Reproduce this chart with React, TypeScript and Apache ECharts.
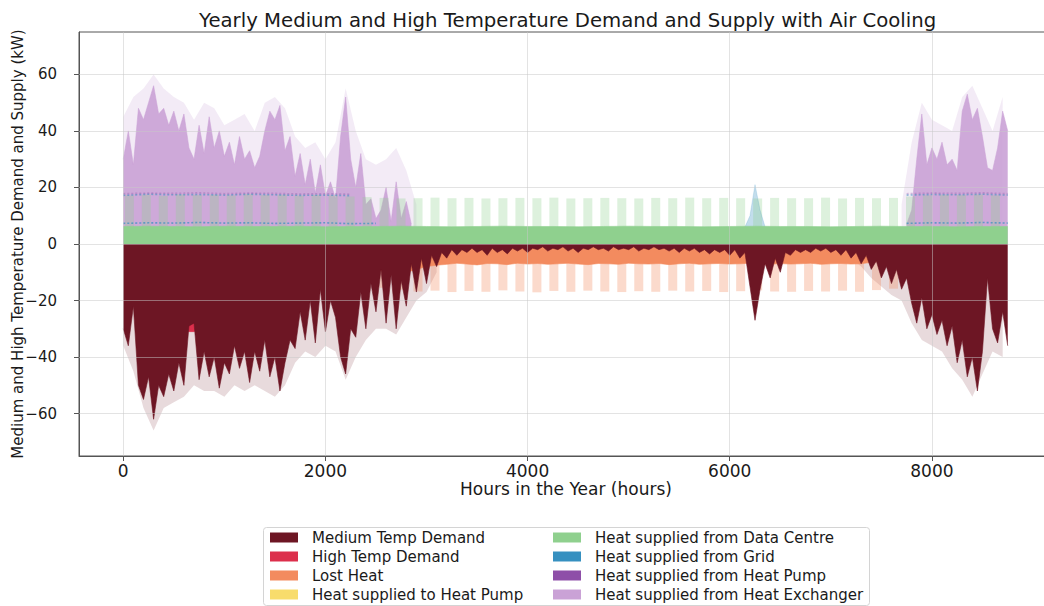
import React, { useEffect, useRef } from "react";
import * as echarts from "echarts";

// ---------- data ----------
const TITLE = "Yearly Medium and High Temperature Demand and Supply with Air Cooling";
const X_NAME = "Hours in the Year (hours)";
const Y_NAME = "Medium and High Temperature Demand and Supply (kW)";
const X_TICKS = [0, 2000, 4000, 6000, 8000];
const Y_TICKS = [-60, -40, -20, 0, 20, 40, 60];

// hourly profile sampled every 50 h (kW, demand drawn downwards)
const STEP = 50;
const mediumDemand = [
  -30, -36, -22, -50, -55, -47, -62, -50, -54, -46,
  -52, -42, -50, -29, -28, -48, -38, -47, -40, -51,
  -42, -46, -36, -44, -38, -49, -38, -45, -34, -47,
  -40, -52, -42, -34, -37, -24, -34, -20, -35, -16,
  -31, -20, -26, -40, -46, -30, -33, -17, -30, -14,
  -24, -9, -28, -11, -30, -13, -22, -7, -17, -5,
  -14, -4, -8, -3, -5, -2, -4, -2, -3, -1.5,
  -3, -2, -4, -1.5, -3, -2, -3.5, -1.5, -2.5, -1.5,
  -3, -1.5, -2, -1, -2.5, -1.5, -2, -1, -2.5, -1.5,
  -3, -1.5, -2, -1, -2, -1.5, -2.5, -1, -2, -1.5,
  -2, -1, -2.5, -1.5, -2, -1, -2, -1.5, -2.5, -1.5,
  -3, -1.5, -2.5, -1.5, -3, -2, -3.5, -2, -3, -2,
  -4, -2, -5, -3, -15, -27, -16, -7, -12, -5,
  -10, -3, -4, -2, -3, -2, -3, -1.5, -2.5, -1.5,
  -3, -2, -4, -2, -5, -3, -7, -4, -9, -6,
  -12, -8, -14, -9, -16, -12, -21, -28, -19, -30,
  -25, -32, -27, -36, -29, -42, -34, -47, -40, -52,
  -38, -12, -30, -35, -24, -36,
];

// faint tips of the demand spikes, every 100 h
const TIP_STEP = 100;
const demandTipsStart = [
  -36, -45, -58, -66, -58, -56, -54, -50, -52, -52,
  -54, -50, -52, -50, -52, -54, -50, -42, -38, -40,
  -36, -38, -48, -40, -34, -30, -30, -32, -26, -20,
  -17, -10,
];
const DEMAND_TIPS_END_START = 7200;
const demandTipsEnd = [-5, -8, -12, -15, -18, -20, -28, -34, -36, -38, -44, -48, -54, -46, -38, -40];

// high temperature demand (lower edge), from 600 h every 50 h
const HIGH_START = 600;
const highTempDemand = [-30, -31, -31, -30];

// lost heat, lower edge of the solid band, from 2400 h every 100 h
const LOST_START = 2400;
const LOST_STEP = 100;
const lostHeat = [
  -3, -9, -10, -9, -10, -9, -8, -7.5, -7.2, -6.8,
  -7.1, -7.4, -6.9, -7, -7.3, -6.8, -7.1, -6.9, -7.2, -7,
  -6.8, -7.1, -7.3, -6.9, -7, -7.2, -6.8, -7, -7.1, -6.9,
  -7.3, -7, -6.8, -7.2, -7, -6.9, -7.1, -7, -6.8, -7,
  -7.2, -6.9, -7.1, -7, -6.8, -7.2, -7, -6.9, -7.1, -7,
  -6.5, -6, -5.5, -4.5, -2,
];

// weekly peaks (one value per week, centred on the working days)
const WEEK = 168;
const WEEK_OFFSET = 60;
const dataCentrePeaks = [
  17.2, 17.4, 17.0, 17.5, 17.3, 17.4, 17.2, 17.6, 17.3, 17.4,
  17.1, 17.3, 17.2, 16.8, 16.6, 16.3, 16.1, 16.2, 16.4, 16.2,
  16.3, 16.1, 16.2, 16.3, 16.2, 16.4, 16.1, 16.2, 16.3, 16.2,
  16.1, 16.3, 16.2, 16.4, 16.2, 16.3, 16.2, 16.1, 16.3, 16.2,
  16.2, 16.4, 16.1, 16.3, 16.2, 16.3, 16.8, 17.2, 17.4, 17.3,
  17.5, 17.2,
];
const PEAK_WEEK_START = 15;
const lostHeatPeaks = [
  -15.5, -16.2, -16.8, -16.5, -17, -16.6, -16.9, -16.4, -16.8, -17.1,
  -16.6, -16.9, -16.5, -16.8, -17, -16.7, -16.9, -16.5, -16.8, -16.6,
  -17, -16.7, -16.4, -16.8, -16.9, -16.6, -16.8, -16.5, -16.9, -16.3,
  -15.8,
];
const heatToHeatPump = [
  -0.8, -1.0, -1.2, -1.1, -1.3, -1.0, -1.2, -1.1, -1.0, -1.3,
  -1.1, -1.2, -1.0, -1.1, -1.3, -1.2, -1.0, -1.1, -1.2, -1.0,
  -1.3, -1.1, -1.0, -1.2, -1.1, -1.0, -1.2, -1.1, -1.0, -0.9,
  -0.8,
];

// data centre base supply, every 250 h
const DC_STEP = 250;
const dataCentreBase = [
  6.2, 6.3, 6.2, 6.1, 6.3, 6.2, 6.2, 6.3, 6.1, 6.2,
  6.2, 6.3, 6.2, 6.1, 6.2, 6.3, 6.2, 6.2, 6.1, 6.2,
  6.3, 6.2, 6.2, 6.1, 6.2, 6.3, 6.2, 6.2, 6.1, 6.2,
  6.3, 6.2, 6.2, 6.1, 6.2, 6.2,
];

// heat exchanger upper edge in winter, every 50 h
const hxWinterStart = [
  30, 40, 28, 48, 44, 50, 56, 46, 48, 42,
  47, 40, 46, 34, 30, 42, 32, 45, 34, 40,
  31, 36, 28, 38, 30, 33, 27, 31, 40, 47,
  44, 49, 33, 38, 24, 32, 21, 30, 18, 28,
  17, 22, 16, 38, 52, 30, 20, 32, 14, 16,
  9, 12, 20, 8, 22, 9, 15, 7,
];
const HX_END_START = 7750;
const hxWinterEnd = [7, 12, 30, 46, 28, 34, 30, 36, 28, 30, 26, 47, 53, 44, 48, 38, 27, 26, 34, 47, 40];

// faint tips of the heat exchanger spikes, every 100 h
const hxTipsStart = [
  45, 52, 55, 60, 55, 52, 50, 44, 50, 48,
  42, 44, 46, 40, 50, 52, 48, 38, 34, 36,
  30, 36, 55, 40, 30, 28, 30, 34, 26, 14,
];
const HX_TIPS_END_START = 7700;
const hxTipsEnd = [14, 36, 50, 44, 42, 40, 52, 56, 48, 40, 52];

// grid / heat pump upper edges (winter), every 250 h
const GRID_STEP = 250;
const gridLowStart = [7.3, 7.5, 7.4, 7.6, 7.4, 7.5, 7.3, 7.4, 7.5, 7.2, 7.3];
const gridHighStart = [17.2, 17.6, 17.4, 17.5, 17.3, 17.6, 17.4, 17.2, 17.3, 17.1];
const gridLowEnd = [7.3, 7.5, 7.4, 7.6, 7.4];
const gridHighEnd = [17.3, 17.5, 17.4, 17.6, 17.3];
const heatPumpStart = [17.8, 18.0, 17.9, 18.1, 17.8, 18.0, 17.9, 17.7, 17.8, 17.6];
const heatPumpEnd = [17.8, 18.0, 17.9, 18.1, 17.8];
const GRID_SPIKE_START = 6150;
const gridSpike = [6, 10, 21, 12, 6];

// ---------- styles ----------
const FONT = "DejaVu Sans";
const TXT = "#1a1a1a";
const C = {
  medium: "#6d1624",
  high: "#dc2f4c",
  lost: "#f38b5f",
  toHp: "#f8dc6c",
  dc: "#8fd08e",
  grid: "#3690c0",
  hp: "#8e4fa8",
  hx: "#caa2d6",
};

const series = (start: number, step: number, vals: number[]) => vals.map((v, i) => [start + i * step, v]);
const weekly = (startWeek: number, vals: number[]) => vals.map((v, i) => [WEEK_OFFSET + (startWeek + i) * WEEK, v]);

const area = (name: string, data: number[][], color: string, z: number, opacity = 1) => ({
  type: "line",
  name,
  data,
  z,
  symbol: "none",
  showSymbol: false,
  silent: true,
  itemStyle: { color },
  lineStyle: { width: 0.6, color, opacity },
  areaStyle: { color, opacity },
});

const haze = (name: string, data: number[][], color: string, z: number, opacity: number) => ({
  type: "line",
  name,
  data,
  z,
  symbol: "none",
  showSymbol: false,
  silent: true,
  itemStyle: { color },
  lineStyle: { width: 0 },
  areaStyle: { color, opacity },
});

const dotted = (name: string, data: number[][], color: string, opacity: number) => ({
  type: "line",
  name,
  data,
  z: 6,
  symbol: "none",
  showSymbol: false,
  silent: true,
  itemStyle: { color },
  lineStyle: { width: 1.6, color, opacity, type: [2, 2] },
});

const N = {
  medium: "Medium Temp Demand",
  high: "High Temp Demand",
  lost: "Lost Heat",
  toHp: "Heat supplied to Heat Pump",
  dc: "Heat supplied from Data Centre",
  grid: "Heat supplied from Grid",
  hp: "Heat supplied from Heat Pump",
  hx: "Heat supplied from Heat Exchanger",
};

const legendItem = (name: string, color: string) => ({
  name,
  icon: "rect",
  itemStyle: { color, opacity: 1, borderWidth: 0 },
});

const legendBase = {
  orient: "vertical",
  top: 530,
  height: 90,
  padding: 0,
  itemWidth: 28,
  itemHeight: 10,
  itemGap: 4,
  selectedMode: false,
  textStyle: { fontFamily: FONT, fontSize: 15, color: TXT, lineHeight: 15, padding: [0, 0, 0, 9] },
};

const option = {
  animation: false,
  backgroundColor: "#ffffff",
  title: {
    text: TITLE,
    left: 194,
    top: 5,
    textStyle: { fontFamily: FONT, fontSize: 19.7, fontWeight: "normal", color: TXT },
  },
  graphic: [
    {
      type: "rect",
      left: 263,
      top: 527,
      shape: { width: 606, height: 78, r: 3 },
      style: { fill: "#fff", stroke: "#d4d4d4", lineWidth: 1 },
      z: -1,
    },
  ],
  legend: [
    {
      ...legendBase,
      left: 270,
      data: [
        legendItem(N.medium, C.medium),
        legendItem(N.high, C.high),
        legendItem(N.lost, C.lost),
        legendItem(N.toHp, C.toHp),
      ],
    },
    {
      ...legendBase,
      left: 553,
      data: [
        legendItem(N.dc, C.dc),
        legendItem(N.grid, C.grid),
        legendItem(N.hp, C.hp),
        legendItem(N.hx, C.hx),
      ],
    },
  ],
  grid: {
    left: 79,
    right: -9,
    top: 32,
    bottom: 150,
    show: true,
    borderColor: "#555",
    borderWidth: 1,
    containLabel: false,
    outerBoundsMode: "none",
  },
  xAxis: {
    type: "value",
    min: -438,
    max: 9198,
    name: X_NAME,
    nameLocation: "middle",
    nameGap: 24,
    nameMoveOverlap: false,
    nameTextStyle: { fontFamily: FONT, fontSize: 17, color: TXT },
    axisLine: { show: true, onZero: false, lineStyle: { color: "#555" } },
    axisTick: { show: true, length: 5, customValues: X_TICKS, lineStyle: { color: "#555" } },
    axisLabel: {
      customValues: X_TICKS,
      fontFamily: FONT,
      fontSize: 17,
      color: TXT,
      margin: 6,
      formatter: (v: number) => String(v),
    },
    splitLine: { show: false },
  },
  yAxis: {
    type: "value",
    min: -75,
    max: 75,
    name: Y_NAME,
    nameLocation: "middle",
    nameGap: 54,
    nameMoveOverlap: false,
    nameTextStyle: { fontFamily: FONT, fontSize: 15, color: TXT },
    axisLine: { show: true, onZero: false, lineStyle: { color: "#555" } },
    axisTick: { show: true, length: 5, customValues: Y_TICKS, lineStyle: { color: "#555" } },
    axisLabel: {
      customValues: Y_TICKS,
      fontFamily: FONT,
      fontSize: 15,
      color: TXT,
      margin: 22,
      formatter: (v: number) => (v < 0 ? "\u2212" + Math.abs(v) : String(v)),
    },
    splitLine: { show: false },
  },
  series: [
    // faint spike tips (behind the solid masses)
    haze("hxTipsStart", series(0, TIP_STEP, hxTipsStart), C.hx, 0, 0.22),
    haze("hxTipsEnd", series(HX_TIPS_END_START, TIP_STEP, hxTipsEnd), C.hx, 0, 0.22),
    haze("demandTipsStart", series(0, TIP_STEP, demandTipsStart), C.medium, 0, 0.16),
    haze("demandTipsEnd", series(DEMAND_TIPS_END_START, TIP_STEP, demandTipsEnd), C.medium, 0, 0.16),
    // heat exchanger (winter), behind everything on the positive side
    area(N.hx, series(0, STEP, hxWinterStart), C.hx, 1, 0.9),
    area("hxEnd", series(HX_END_START, STEP, hxWinterEnd), C.hx, 1, 0.9),
    // weekly peaks of data centre heat (translucent stripes)
    {
      type: "bar",
      name: "dcPeaks",
      data: weekly(0, dataCentrePeaks),
      barWidth: 9,
      barGap: "-100%",
      z: 2,
      silent: true,
      itemStyle: { color: C.dc, opacity: 0.3 },
    },
    // weekly peaks of lost heat + heat to heat pump (stacked downward)
    {
      type: "bar",
      name: "lostPeaks",
      stack: "lp",
      data: weekly(PEAK_WEEK_START, lostHeatPeaks),
      barWidth: 9,
      barGap: "-100%",
      z: 1,
      silent: true,
      itemStyle: { color: C.lost, opacity: 0.32 },
    },
    {
      type: "bar",
      name: N.toHp,
      stack: "lp",
      data: weekly(PEAK_WEEK_START, heatToHeatPump),
      barWidth: 9,
      barGap: "-100%",
      z: 1,
      silent: true,
      itemStyle: { color: C.toHp, opacity: 0.5 },
    },
    // grid spike in summer
    area("gridSpike", series(GRID_SPIKE_START, STEP, gridSpike), C.grid, 2, 0.3),
    // solid bands
    area(N.lost, series(LOST_START, LOST_STEP, lostHeat), C.lost, 2),
    area(N.high, series(HIGH_START, STEP, highTempDemand), C.high, 3),
    area(N.medium, series(0, STEP, mediumDemand), C.medium, 4),
    area(N.dc, series(0, DC_STEP, dataCentreBase), C.dc, 5),
    // grid and heat pump edges (winter)
    dotted(N.grid, series(0, GRID_STEP, gridLowStart), C.grid, 0.7),
    dotted("gridLowEnd", series(HX_END_START, GRID_STEP, gridLowEnd), C.grid, 0.7),
    dotted("gridHighStart", series(0, GRID_STEP, gridHighStart), C.grid, 0.55),
    dotted("gridHighEnd", series(HX_END_START, GRID_STEP, gridHighEnd), C.grid, 0.55),
    dotted(N.hp, series(0, GRID_STEP, heatPumpStart), C.hp, 0.35),
    dotted("hpEnd", series(HX_END_START, GRID_STEP, heatPumpEnd), C.hp, 0.35),
    // light grid lines drawn over the data
    {
      type: "line",
      name: "gridlines",
      data: [],
      silent: true,
      markLine: {
        silent: true,
        z: 10,
        symbol: ["none", "none"],
        label: { show: false },
        lineStyle: { color: "#c8c8c8", opacity: 0.5, width: 1, type: "solid" },
        data: [...X_TICKS.map((v) => ({ xAxis: v })), ...Y_TICKS.map((v) => ({ yAxis: v }))],
      },
    },
  ],
};

export default function App() {
  const ref = useRef<HTMLDivElement>(null);
  useEffect(() => {
    const chart = echarts.init(ref.current as HTMLDivElement, null, { renderer: "svg" });
    chart.setOption(option as any);
    return () => chart.dispose();
  }, []);
  return (
    <div
      ref={ref}
      style={{ position: "fixed", left: 0, top: 0, width: 1044, height: 606, background: "#fff" }}
    />
  );
}
